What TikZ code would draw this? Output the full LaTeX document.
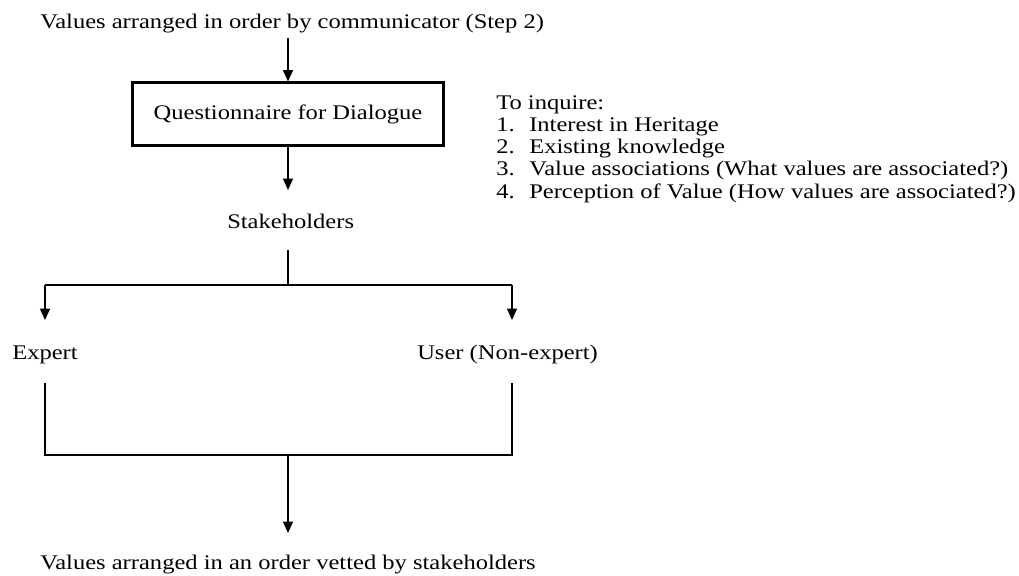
\documentclass[tikz,border=0pt]{standalone}
\usepackage{fontspec}
\setmainfont{Liberation Serif}[FakeStretch=1.18]
\usetikzlibrary{arrows.meta}
\begin{document}
\begin{tikzpicture}[x=0.75pt,y=-0.75pt,
  lbl/.style={inner sep=0pt,anchor=base west,font=\fontsize{15.6}{18}\selectfont},
  boxed/.style={draw,line width=1.6pt,minimum width=311*0.75pt,minimum height=63*0.75pt,inner sep=0pt,font=\fontsize{15.6}{18}\selectfont},
  conn/.style={line width=0.9pt},
  arr/.style={conn,-{Triangle[length=8.5pt,width=7.5pt]}}]
\useasboundingbox (0,0) rectangle (1019,575);
% main chain
\node[lbl] (start) at (40,28) {Values arranged in order by communicator (Step 2)};
\node[boxed] (quest) at (288,114) {Questionnaire for Dialogue};
\node[lbl] (stake) at (227,228) {Stakeholders};
\node[lbl] (expert) at (12,359) {Expert};
\node[lbl] (user) at (417,359) {User (Non-expert)};
\node[lbl] (final) at (40,569) {Values arranged in an order vetted by stakeholders};
% junction points
\coordinate (split) at (288,285);
\coordinate (sl) at (45,285);
\coordinate (sr) at (512,285);
\coordinate (jl) at (45,455);
\coordinate (jr) at (512,455);
\coordinate (join) at (288,455);
% connectors
\draw[arr] (288,38) -- (quest.north);
\draw[arr] (quest.south) -- (288,190);
\draw[conn] (288,250) -- (split);
\draw[conn] (sl) -- (sr);
\draw[arr] (sl) -- (45,320);
\draw[arr] (sr) -- (512,320);
\draw[conn] (45,383) -- (jl) -- (jr) -- (512,383);
\draw[arr] (join) -- (288,533);
% inquiry list
\node[lbl] (inq) at (496,109) {To inquire:};
\node[lbl] (n1) at (496,131) {1.};
\node[lbl] (n2) at (496,153) {2.};
\node[lbl] (n3) at (496,175) {3.};
\node[lbl] (n4) at (496,198) {4.};
\node[lbl] (i1) at (529,131) {Interest in Heritage};
\node[lbl] (i2) at (529,153) {Existing knowledge};
\node[lbl] (i3) at (529,175) {Value associations (What values are associated?)};
\node[lbl] (i4) at (529,198) {Perception of Value (How values are associated?)};
\end{tikzpicture}
\end{document}
